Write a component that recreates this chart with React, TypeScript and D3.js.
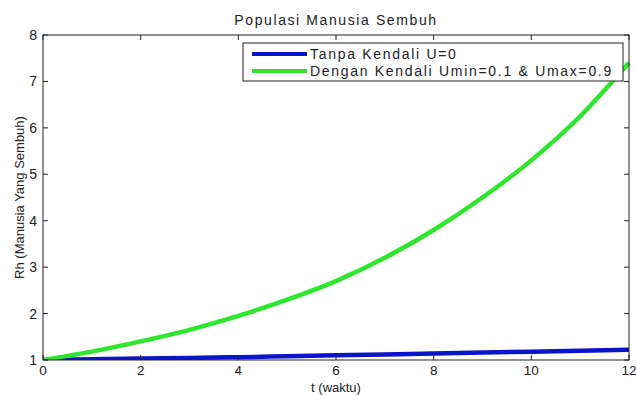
import React from "react";
import * as d3 from "d3";

const tValues = [0, 1, 2, 3, 4, 5, 6, 7, 8, 9, 10, 11, 12];
const noControl = [1.0, 1.015, 1.03, 1.045, 1.06, 1.08, 1.1, 1.12, 1.14, 1.16, 1.18, 1.2, 1.22];
const withControl = [1.0, 1.18, 1.4, 1.65, 1.95, 2.3, 2.7, 3.2, 3.8, 4.5, 5.3, 6.25, 7.4];
const xTicks = [0, 2, 4, 6, 8, 10, 12];
const yTicks = [1, 2, 3, 4, 5, 6, 7, 8];
const legendLabels = ["Tanpa Kendali U=0", "Dengan Kendali Umin=0.1 & Umax=0.9"];
const colors = ["#0a14c8", "#2ee62e"];

export default function App() {
  const W = 636, H = 395;
  const L = 43, R = 629, T = 35, B = 360;
  const x = d3.scaleLinear().domain([0, 12]).range([L, R]);
  const y = d3.scaleLinear().domain([1, 8]).range([B, T]);
  const line = d3.line<number>().x((_, i) => x(tValues[i])).y((d) => y(d)).curve(d3.curveMonotoneX);
  const font = "Liberation Sans, Arial, sans-serif";
  const series = [noControl, withControl];
  return (
    <svg width={W} height={H} style={{ position: "absolute", left: 0, top: 0, background: "#fff" }} fontFamily={font}>
      <defs>
        <clipPath id="clip"><rect x={L} y={T - 10} width={R - L + 6} height={B - T + 10} /></clipPath>
      </defs>
      <rect x={0} y={0} width={W} height={H} fill="#fff" />
      <g clipPath="url(#clip)">
        {series.map((s, i) => (
          <path key={i} d={line(s) || ""} fill="none" stroke={colors[i]} strokeWidth={4.5} />
        ))}
      </g>
      <rect x={L} y={T} width={R - L} height={B - T} fill="none" stroke="#222" strokeWidth={1} />
      {xTicks.map((t) => (
        <g key={"x" + t}>
          <line x1={x(t)} x2={x(t)} y1={B} y2={B - 5} stroke="#222" />
          <line x1={x(t)} x2={x(t)} y1={T} y2={T + 5} stroke="#222" />
          <text x={x(t)} y={B + 15} fontSize={13.5} textAnchor="middle" fill="#222">{t}</text>
        </g>
      ))}
      {yTicks.map((t) => (
        <g key={"y" + t}>
          <line x1={L} x2={L + 5} y1={y(t)} y2={y(t)} stroke="#222" />
          <line x1={R} x2={R - 5} y1={y(t)} y2={y(t)} stroke="#222" />
          <text x={L - 6} y={y(t) + 5} fontSize={14} textAnchor="end" fill="#222">{t}</text>
        </g>
      ))}
      <text x={(L + R) / 2} y={25} fontSize={14} letterSpacing={1.6} textAnchor="middle" fill="#222">Populasi Manusia Sembuh</text>
      <text x={(L + R) / 2} y={392} fontSize={13} textAnchor="middle" fill="#222">t (waktu)</text>
      <text transform={`translate(24, ${(T + B) / 2}) rotate(-90)`} fontSize={13} textAnchor="middle" fill="#222">Rh (Manusia Yang Sembuh)</text>
      <g>
        <rect x={243} y={43} width={380} height={38} fill="#fff" stroke="#222" strokeWidth={1} />
        {legendLabels.map((lab, i) => (
          <g key={lab}>
            <line x1={252} x2={307} y1={54 + i * 17} y2={54 + i * 17} stroke={colors[i]} strokeWidth={4} />
            <text x={310} y={59 + i * 17} fontSize={14} letterSpacing={1.7} fill="#222">{lab}</text>
          </g>
        ))}
      </g>
    </svg>
  );
}
